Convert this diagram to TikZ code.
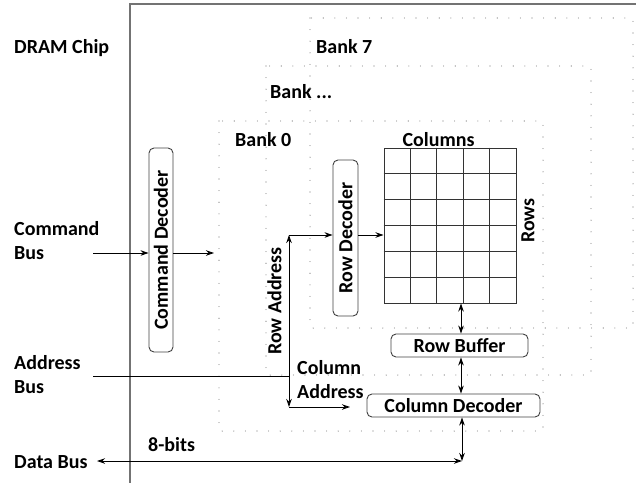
\documentclass[tikz,border=0pt]{standalone}
\usepackage{fontspec}
\setmainfont{Carlito}
\usepackage{graphicx}
\usetikzlibrary{arrows.meta,calc}
\begin{document}
\begin{tikzpicture}[x=1pt,y=-1pt,
  font=\bfseries\fontsize{20}{24}\selectfont,
  lbl/.style={inner sep=0pt, anchor=base west, align=left},
  blk/.style={draw=black!75, line width=0.9pt, rounded corners=5pt, inner sep=0pt},
  bank/.style={draw=black!55, line width=1.1pt, line cap=round, dash pattern=on 0pt off 11.6pt},
  chip/.style={draw=black!55, line width=1.8pt},
  cellline/.style={draw=black!80, line width=1pt},
  arr/.style={-{Stealth[length=8pt,width=5.5pt]}, line width=0.9pt},
  arrs/.style={{Stealth[length=8pt,width=5.5pt]}-{Stealth[length=8pt,width=5.5pt]}, line width=0.9pt},
]
\useasboundingbox (0,0) rectangle (636,482);

% chip outline
\draw[chip] (640,4) -| (130,486);

% banks
\draw[bank] (310,18) rectangle (633,328);
\draw[bank] (266,66) rectangle (591,375);
\draw[bank] (219,121) rectangle (543,431);

% labels (a multi-line label sits on the baseline of its last line)
\node[lbl] (chiplbl) at (14,53) {DRAM Chip};
\node[lbl] (b7) at (316,53) {Bank 7};
\node[lbl] (bdots) at (270,98) {Bank ...};
\node[lbl] (b0) at (235,146) {Bank 0};
\node[lbl] (cmdlbl) at (14,259) {Command\\Bus};
\node[lbl] (addrlbl) at (14,393) {Address\\Bus};
\node[lbl] (datalbl) at (14,468) {Data Bus};
\node[lbl] (bits) at (148,451) {8-bits};
\node[lbl] (collbl) at (297,398) {Column\\Address};

% blocks
\node[blk, minimum width=24pt, minimum height=204pt] (cmddec) at (161,250) {\rotatebox{90}{Command Decoder}};
\node[blk, minimum width=25pt, minimum height=156pt] (rowdec) at (345.5,238) {\rotatebox{90}{Row Decoder}};
\node[blk, minimum width=137pt, minimum height=23pt] (rowbuf) at (459.5,345.5) {Row Buffer};
\node[blk, minimum width=173pt, minimum height=23pt] (coldec) at (453.5,405.5) {Column Decoder};

% cell array
\node[cellline, minimum width=132pt, minimum height=155pt, inner sep=0pt] (cells) at (450,225.5) {};
\foreach \i in {1,...,4}
  \draw[cellline] ($(cells.north west)!\i/5!(cells.north east)$) -- ($(cells.south west)!\i/5!(cells.south east)$);
\foreach \j in {1,...,5}
  \draw[cellline] ($(cells.north west)!\j/6!(cells.south west)$) -- ($(cells.north east)!\j/6!(cells.south east)$);
\node[inner sep=0pt, anchor=base] (colslbl) at (438.5,146) {Columns};
\node[inner sep=0pt, rotate=90] (rowslbl) at (528,220.5) {Rows};
\node[inner sep=0pt, rotate=90] (rowaddr) at (274.5,301) {Row Address};

% connection points
\coordinate (cbus) at (93,253);
\coordinate (cmdout) at (214,253);
\coordinate (abus) at (93,376);
\coordinate (raddr) at (289,235);
\coordinate (caddr) at (289,407);
\coordinate (caddrend) at (350,407);
\coordinate (bx) at (461,0);
\coordinate (dcorner) at (462,461);
\coordinate (dbus) at (97,461);

% connectors
\draw[arr] (cbus) -- (cbus -| cmddec.west);
\draw[arr] (cbus -| cmddec.east) -- (cmdout);
\draw[line width=0.9pt] (abus) -- (abus -| raddr);
\draw[arrs] (raddr) -- (caddr);
\draw[arr] (raddr) -- (raddr -| rowdec.west);
\draw[arr] (caddr) -- (caddrend);
\draw[arr] (raddr -| rowdec.east) -- (raddr -| cells.west);
\draw[arrs] (cells.south -| bx) -- (rowbuf.north -| bx);
\draw[arrs] (rowbuf.south -| bx) -- (coldec.north -| bx);
\draw[arrs] (coldec.south -| dcorner) -- (dcorner);
\draw[arrs] (dbus) -- (dcorner);
\end{tikzpicture}
\end{document}
